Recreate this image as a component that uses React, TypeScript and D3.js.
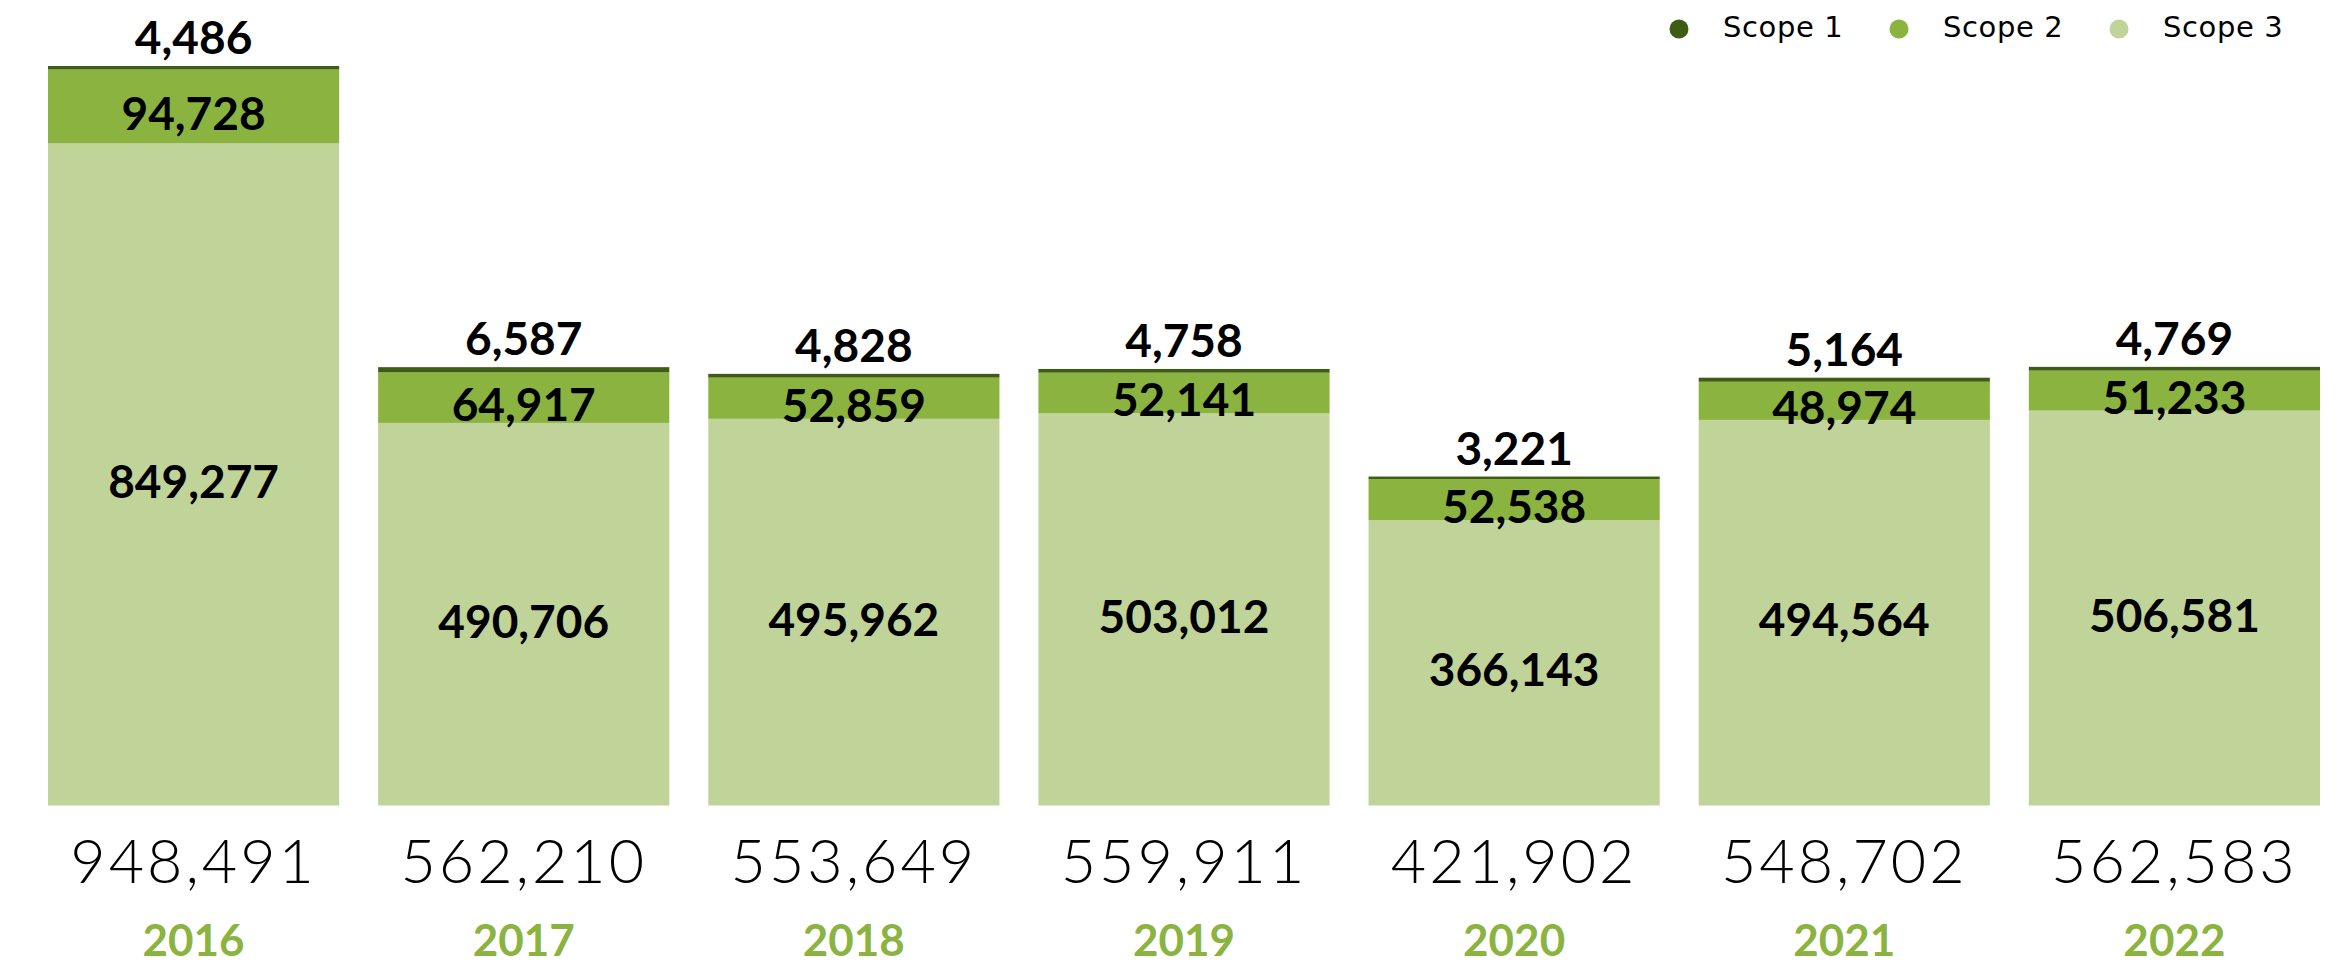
import React from 'react';
import * as d3 from 'd3';

const years = ['2016', '2017', '2018', '2019', '2020', '2021', '2022'];
const scope1 = [4486, 6587, 4828, 4758, 3221, 5164, 4769];
const scope2 = [94728, 64917, 52859, 52141, 52538, 48974, 51233];
const scope3 = [849277, 490706, 495962, 503012, 366143, 494564, 506581];
const totals = [948491, 562210, 553649, 559911, 421902, 548702, 562583];
const seriesNames = ['Scope 1', 'Scope 2', 'Scope 3'];

const W = 2347;
const H = 965;
const colors: Record<string, string> = {
  'Scope 1': '#3f5c15',
  'Scope 2': '#8ab43f',
  'Scope 3': '#c0d399',
};

export default function App() {
  const rows = years.map((y, i) => ({ year: y, s1: scope1[i], s2: scope2[i], s3: scope3[i] }));
  const x = d3.scaleBand<string>().domain(years).range([48, 2320]).paddingInner(0.118).paddingOuter(0);
  const y = d3.scaleLinear().domain([0, d3.max(totals)!]).range([805.5, 66]);
  const stack = d3.stack<any>().keys(['s3', 's2', 's1']);
  const layers = stack(rows);
  const keyToName: Record<string, string> = { s1: 'Scope 1', s2: 'Scope 2', s3: 'Scope 3' };
  const fmt = d3.format(',');
  const bold = { fontFamily: 'Lato, sans-serif', fontWeight: 700 } as const;

  return (
    <svg width={W} height={H} style={{ position: 'absolute', left: 0, top: 0, background: '#fff' }}>
      {layers.map((layer) => (
        <g key={layer.key} fill={colors[keyToName[layer.key]]}>
          {layer.map((d, i) => (
            <rect
              key={i}
              x={x(years[i])}
              width={x.bandwidth()}
              y={y(d[1])}
              height={y(d[0]) - y(d[1])}
            />
          ))}
        </g>
      ))}
      {/* inner labels */}
      {layers
        .filter((l) => l.key !== 's1')
        .map((layer) =>
          layer.map((d, i) => {
            const mid = (y(d[0]) + y(d[1])) / 2;
            return (
              <text
                key={layer.key + i}
                x={x(years[i])! + x.bandwidth() / 2}
                y={mid + 7 + 16.5}
                textAnchor="middle"
                fontSize={46}
                fill="#000"
                style={bold}
              >
                {fmt(d[1] - d[0])}
              </text>
            );
          })
        )}
      {/* scope 1 labels above */}
      {rows.map((r, i) => (
        <text
          key={'s1' + i}
          x={x(r.year)! + x.bandwidth() / 2}
          y={y(totals[i]) - 12}
          textAnchor="middle"
          fontSize={46}
          fill="#000"
          style={bold}
        >
          {fmt(r.s1)}
        </text>
      ))}
      {/* totals */}
      {rows.map((r, i) => (
        <text
          key={'t' + i}
          x={x(r.year)! + x.bandwidth() / 2}
          y={883}
          textAnchor="middle"
          fontSize={61}
          fill="#000"
          letterSpacing={3}
          style={{ fontFamily: 'Lato, sans-serif', fontWeight: 300 }}
        >
          {fmt(totals[i])}
        </text>
      ))}
      {/* years */}
      {rows.map((r, i) => (
        <text
          key={'y' + i}
          x={x(r.year)! + x.bandwidth() / 2}
          y={956}
          textAnchor="middle"
          fontSize={44}
          fill="#8ab43f"
          style={bold}
        >
          {r.year}
        </text>
      ))}
      {/* legend */}
      {seriesNames.map((n, i) => (
        <g key={n} transform={`translate(${1679 + i * 220},29)`}>
          <circle r={9.5} fill={colors[n]} />
          <text
            x={44}
            y={8}
            fontSize={29}
            letterSpacing={0.6}
            fill="#000"
            style={{ fontFamily: '"DejaVu Sans", sans-serif' }}
          >
            {n}
          </text>
        </g>
      ))}
    </svg>
  );
}
